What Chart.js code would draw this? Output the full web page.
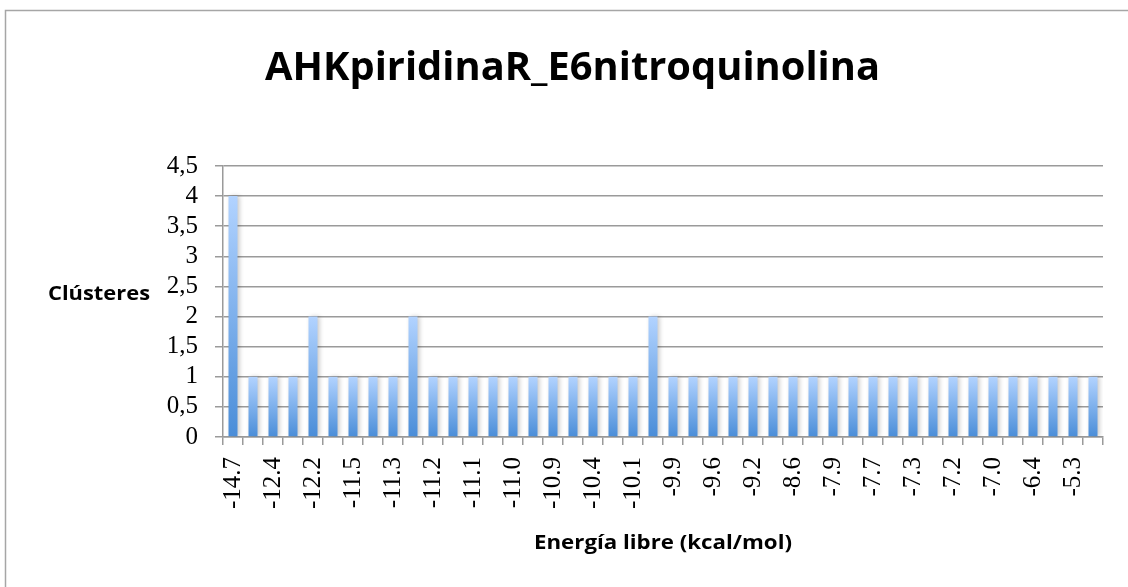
<!DOCTYPE html>
<html>
<head>
<meta charset="utf-8">
<script src="https://cdn.jsdelivr.net/npm/chart.js@4/dist/chart.umd.min.js"></script>
<style>
  html, body { margin: 0; padding: 0; background: #fff; }
  #wrap { width: 1128px; height: 587px; position: relative; }
</style>
</head>
<body>
<div id="wrap"><canvas id="clusters-chart"></canvas></div>
<script>
// free energy of each cluster (kcal/mol), sorted
const energies = [
    '-14.7', '-12.9', '-12.4', '-12.3', '-12.2', '-11.9', '-11.5', '-11.4', '-11.3', '-11.3',
    '-11.2', '-11.1', '-11.1', '-11.0', '-11.0', '-10.9', '-10.9', '-10.7', '-10.4', '-10.2',
    '-10.1', '-10.0', '-9.9', '-9.8', '-9.6', '-9.4', '-9.2', '-8.9', '-8.6', '-8.2',
    '-7.9', '-7.8', '-7.7', '-7.5', '-7.3', '-7.3', '-7.2', '-7.1', '-7.0', '-6.8',
    '-6.4', '-5.9', '-5.3', '-4.8'
];
const clusterCounts = [
    4, 1, 1, 1, 2, 1, 1, 1, 1, 2,
    1, 1, 1, 1, 1, 1, 1, 1, 1, 1,
    1, 2, 1, 1, 1, 1, 1, 1, 1, 1,
    1, 1, 1, 1, 1, 1, 1, 1, 1, 1,
    1, 1, 1, 1
];
const yTicks = [0, 0.5, 1, 1.5, 2, 2.5, 3, 3.5, 4, 4.5];

const chartTitle = 'AHKpiridinaR_E6nitroquinolina';
const xTitle = 'Energía libre (kcal/mol)';
const yTitle = 'Clústeres';

const gridColor = '#9a9a9a';

// per-bar vertical gradient, light at the top, darker at the base
function barGradient(context) {
    const chart = context.chart;
    if (!chart.chartArea || context.parsed === undefined) return '#79aeea';
    const y = chart.scales.y;
    const top = y.getPixelForValue(context.parsed.y);
    const bottom = y.getPixelForValue(0);
    if (!isFinite(top) || top === bottom) return '#79aeea';
    const g = chart.ctx.createLinearGradient(0, top, 0, bottom);
    g.addColorStop(0, '#b2d3ff');
    g.addColorStop(1, '#4a8dd8');
    return g;
}

// draws text squeezed (or widened a little) to a given width
function drawFitted(ctx, text, font, cx, cy, width) {
    ctx.save();
    ctx.font = font;
    ctx.textAlign = 'center';
    ctx.textBaseline = 'alphabetic';
    const w = ctx.measureText(text).width;
    ctx.translate(cx, cy);
    ctx.scale(width / w, 1);
    ctx.fillStyle = '#000';
    ctx.fillText(text, 0, 0);
    ctx.restore();
}

const framePlugin = {
    id: 'frame',
    beforeDraw(chart) {
        const ctx = chart.ctx;
        ctx.save();
        ctx.strokeStyle = '#a6a6a6';
        ctx.lineWidth = 1.5;
        ctx.beginPath();
        ctx.moveTo(5.5, 587);
        ctx.lineTo(5.5, 10.5);
        ctx.lineTo(1128, 10.5);
        ctx.stroke();
        ctx.restore();
    },
    afterDraw(chart) {
        const ctx = chart.ctx;
        const area = chart.chartArea;
        // baselines
        drawFitted(ctx, chartTitle, 'bold 39px "Open Sans"', 572.5, 80, 615);
        drawFitted(ctx, yTitle, 'bold 19px "Open Sans"', 99, 300, 102);
        drawFitted(ctx, xTitle, 'bold 19px "Open Sans"', (area.left + area.right) / 2, 549, 258);
    }
};

const barShadow = {
    id: 'barShadow',
    beforeDatasetsDraw(chart) {
        const ctx = chart.ctx;
        ctx.save();
        ctx.shadowColor = 'rgba(0, 0, 0, 0.22)';
        ctx.shadowBlur = 4;
        ctx.shadowOffsetX = 2;
        ctx.shadowOffsetY = 0;
    },
    afterDatasetsDraw(chart) {
        chart.ctx.restore();
    }
};

new Chart(document.getElementById('clusters-chart'), {
    type: 'bar',
    data: {
        labels: energies,
        datasets: [{
            label: yTitle,
            data: clusterCounts,
            backgroundColor: barGradient,
            borderWidth: 0,
            barPercentage: 0.45,
            categoryPercentage: 1
        }]
    },
    options: {
        responsive: true,
        maintainAspectRatio: false,
        animation: false,
        layout: { padding: { top: 166, left: 0, right: 25, bottom: 0 } },
        plugins: {
            legend: { display: false },
            tooltip: { enabled: false }
        },
        scales: {
            x: {
                afterFit(scale) {
                    scale.height = 150;
                    scale.paddingLeft = 0;
                    scale.paddingRight = 0;
                },
                grid: {
                    offset: true,
                    drawOnChartArea: false,
                    color: gridColor,
                    lineWidth: 1.5,
                    tickLength: 8
                },
                border: { color: gridColor, width: 1.5 },
                ticks: {
                    autoSkip: false,
                    minRotation: 90,
                    maxRotation: 90,
                    padding: 12,
                    color: '#000',
                    font: { family: '"Liberation Serif"', size: 25 },
                    callback(value, index) {
                        return index % 2 === 0 ? energies[index] : '';
                    }
                }
            },
            y: {
                min: yTicks[0],
                max: yTicks[yTicks.length - 1],
                afterFit(scale) { scale.width = 223; },
                afterBuildTicks(scale) {
                    scale.ticks = yTicks.map(v => ({ value: v }));
                },
                grid: {
                    color: gridColor,
                    lineWidth: 1.5,
                    tickLength: 8
                },
                border: { color: gridColor, width: 1.5 },
                ticks: {
                    autoSkip: false,
                    padding: 17,
                    color: '#000',
                    font: { family: '"Liberation Serif"', size: 25 },
                    callback(value) {
                        return String(value).replace('.', ',');
                    }
                }
            }
        }
    },
    plugins: [framePlugin, barShadow]
});
</script>
</body>
</html>
